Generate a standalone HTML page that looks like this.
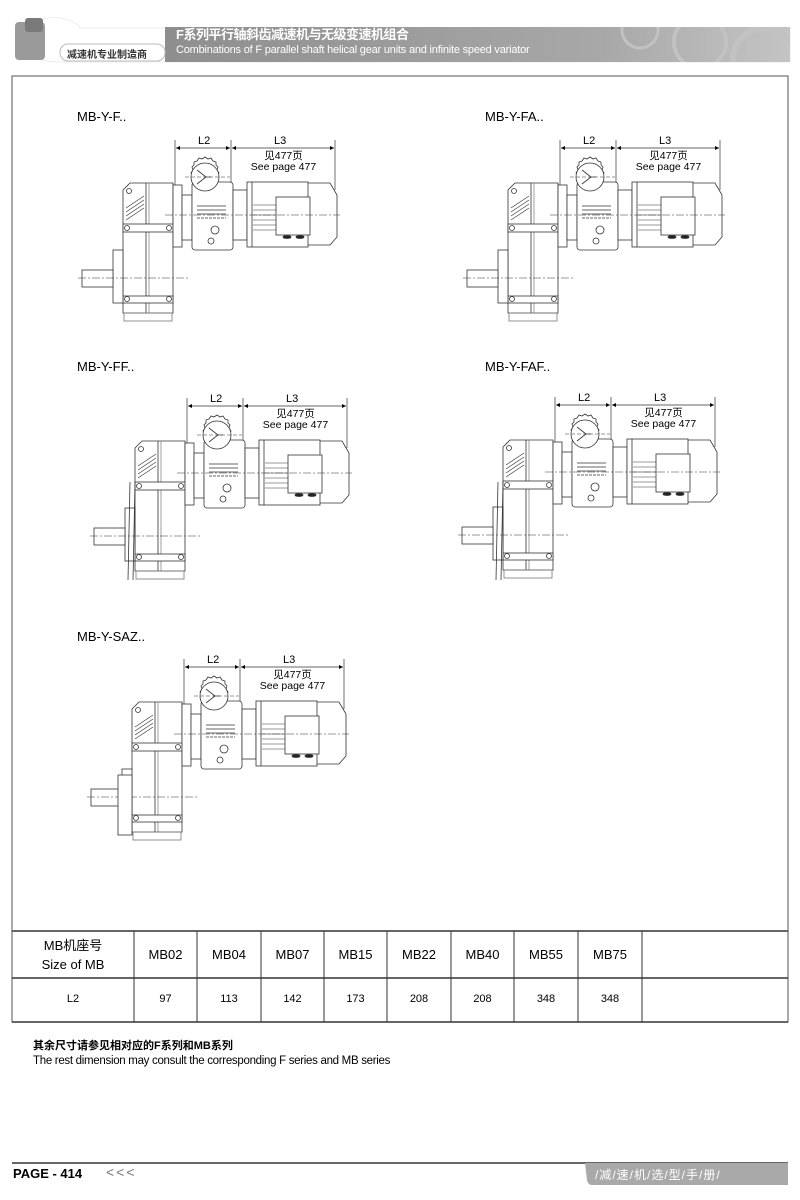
<!DOCTYPE html>
<html><head><meta charset="utf-8"><style>
html,body{margin:0;padding:0;background:#fff;}
body{width:800px;height:1200px;position:relative;overflow:hidden;font-family:"Liberation Sans","Noto Sans CJK SC",sans-serif;}
.abs{position:absolute;}
</style></head><body>
<svg class="abs" style="left:0;top:0" width="800" height="1200" xmlns="http://www.w3.org/2000/svg">
<defs>
<linearGradient id="ban" x1="0" x2="1" y1="0" y2="0">
<stop offset="0" stop-color="#8e8e8e"/><stop offset="0.7" stop-color="#a8a8a8"/><stop offset="1" stop-color="#c4c4c4"/>
</linearGradient>
<clipPath id="bc"><rect x="165" y="27" width="625" height="35"/></clipPath>
<marker id="ar" viewBox="0 0 10 10" refX="10" refY="5" markerWidth="7" markerHeight="5" orient="auto-start-reverse"><path d="M0,0 L10,5 L0,10 z" fill="#000"/></marker>
<g id="gb" fill="none" stroke="#333" stroke-width="0.8">
 <line x1="175" y1="140" x2="175" y2="185" stroke-width="0.7"/>
 <line x1="231" y1="140" x2="231" y2="185" stroke-width="0.7"/>
 <line x1="335" y1="140" x2="335" y2="190" stroke-width="0.7"/>
 <line x1="176" y1="148" x2="230" y2="148" marker-start="url(#ar)" marker-end="url(#ar)"/>
 <line x1="232" y1="148" x2="334" y2="148" marker-start="url(#ar)" marker-end="url(#ar)"/>
 <path d="M123,190 L130,183 L173,183 L173,313 L123,313 Z" fill="#fff"/>
 <line x1="146" y1="183" x2="146" y2="313"/>
 <line x1="149" y1="183" x2="149" y2="313" stroke="#888"/>
 <rect x="123" y="224" width="50" height="8" fill="#fff"/>
 <rect x="123" y="296" width="50" height="7" fill="#fff"/>
 <circle cx="127" cy="228" r="2.5"/><circle cx="169" cy="228" r="2.5"/>
 <circle cx="127" cy="299" r="2.5"/><circle cx="169" cy="299" r="2.5"/>
 <circle cx="129" cy="191" r="2.5"/>
 <path d="M126,212 L144,200 M126,216 L144,204 M126,220 L144,208 M126,208 L144,196" stroke-width="0.6"/>
 <rect x="124" y="313" width="48" height="8" stroke="#777"/>
 <rect x="113" y="250" width="10" height="53" fill="#fff"/>
 <rect x="82" y="270" width="31" height="17" fill="#fff"/>
 <line x1="78" y1="278" x2="190" y2="278" stroke-dasharray="8,2,2,2" stroke-width="0.5"/>
 <rect x="173" y="185" width="9" height="62" fill="#fff"/>
 <rect x="182" y="195" width="10" height="45" fill="#fff"/>
 <rect x="192" y="182" width="41" height="68" rx="3" fill="#fff"/>
 <line x1="197" y1="206" x2="226" y2="206"/><line x1="197" y1="210" x2="226" y2="210"/><line x1="197" y1="214" x2="226" y2="214"/><line x1="197" y1="218" x2="226" y2="218" stroke-dasharray="3,1"/>
 <circle cx="215" cy="230" r="4"/><circle cx="211" cy="241" r="3"/>
 <path d="M205,157 l3,2 l3,-1 l2,3 l3,1 l0,3 l2,2 l-1,3 l2,3 l-2,3 l1,3 l-2,2 l0,3 l-3,1 l-2,3 l-3,-1 l-3,2 l-3,-2 l-3,1 l-2,-3 l-3,-1 l0,-3 l-2,-2 l1,-3 l-2,-3 l2,-3 l-1,-3 l2,-2 l0,-3 l3,-1 l2,-3 l3,1 z" fill="#fff"/>
 <circle cx="205" cy="177" r="14" fill="#fff"/>
 <path d="M197,170 L206,177 L197,184 M206,177 L211,177"/>
 <line x1="185" y1="177" x2="230" y2="177" stroke-dasharray="4,2" stroke-width="0.5"/>
 <rect x="233" y="190" width="14" height="50" fill="#fff"/>
 <rect x="247" y="182" width="61" height="65" fill="#fff"/>
 <line x1="252" y1="182" x2="252" y2="247"/>
 <path d="M253,205 h25 M253,210 h25 M253,215 h25 M253,220 h25 M253,225 h25 M253,230 h25" stroke-width="0.6"/>
 <rect x="276" y="197" width="34" height="38" fill="#fff"/>
 <path d="M308,183 L330,183 L337,195 L337,237 L330,245 L308,245"/>
 <ellipse cx="287" cy="237" rx="4" ry="1.5" fill="#222"/><ellipse cx="300" cy="237" rx="4" ry="1.5" fill="#222"/>
 <line x1="165" y1="215" x2="340" y2="215" stroke-dasharray="8,2,2,2" stroke-width="0.5"/>
</g>
</defs>

<path d="M30,30 Q40,15 60,18 Q75,20 80,28 L790,28 L790,62 L60,62 Q35,62 30,50 Z" fill="#fff" stroke="#ddd" stroke-width="0.6"/>
<rect x="165" y="27" width="625" height="35" fill="url(#ban)"/>
<g clip-path="url(#bc)" fill="none" stroke="#c2c2c2">
<circle cx="700" cy="42" r="26" stroke-width="4"/>
<circle cx="765" cy="60" r="32" stroke-width="6"/>
<circle cx="640" cy="30" r="18" stroke-width="3"/>
</g>
<rect x="15" y="22" width="30" height="38" fill="#9a9a9a" rx="4"/>
<rect x="25" y="18" width="18" height="14" fill="#7a7a7a" rx="3"/>
<rect x="60" y="44" width="105" height="17" rx="8" fill="#fff" stroke="#bbb"/>

<rect x="12" y="76" width="776" height="946" fill="none" stroke="#555" stroke-width="1"/>

<use href="#gb"/>
<use href="#gb" transform="translate(385,0)"/>
<use href="#gb" transform="translate(12,258)"/>
<use href="#gb" transform="translate(380,257)"/>
<use href="#gb" transform="translate(9,519)"/>
<path d="M130,482 L128,580 M135,482 L133,580" stroke="#333" stroke-width="0.8" fill="none"/>
<path d="M498,482 L496,580 M503,482 L501,580" stroke="#333" stroke-width="0.8" fill="none"/>
<rect x="118" y="775" width="14" height="60" fill="#fff" stroke="#333" stroke-width="0.8"/>

<g stroke="#333" stroke-width="1" fill="none">
<line x1="12" y1="931" x2="788" y2="931" stroke-width="1.5"/>
<line x1="12" y1="978" x2="788" y2="978" stroke-width="1.5"/>
<line x1="12" y1="1022" x2="788" y2="1022" stroke-width="1.5"/>
<line x1="134" y1="931" x2="134" y2="1022"/><line x1="197" y1="931" x2="197" y2="1022"/>
<line x1="261" y1="931" x2="261" y2="1022"/><line x1="324" y1="931" x2="324" y2="1022"/>
<line x1="387" y1="931" x2="387" y2="1022"/><line x1="451" y1="931" x2="451" y2="1022"/>
<line x1="514" y1="931" x2="514" y2="1022"/><line x1="578" y1="931" x2="578" y2="1022"/>
<line x1="642" y1="931" x2="642" y2="1022"/>
</g>

<line x1="12" y1="1163" x2="788" y2="1163" stroke="#666" stroke-width="2"/>
<path d="M585,1163 L788,1163 L788,1185 L592,1185 Q588,1185 587,1180 Z" fill="#a9a9a9"/>
</svg>

<div class="abs" style="left:176px;top:28px;color:#fff;font-size:13px;font-weight:bold;line-height:14px;letter-spacing:-0.5px;white-space:nowrap;">F系列平行轴斜齿减速机与无级变速机组合</div>
<div class="abs" style="left:176px;top:44px;color:#fff;font-size:11px;line-height:12px;letter-spacing:-0.2px;white-space:nowrap;">Combinations of F parallel shaft helical gear units and infinite speed variator</div>
<div class="abs" style="left:67px;top:46px;color:#333;font-size:10px;font-weight:bold;">减速机专业制造商</div>

<div class="abs" style="left:77px;top:109px;font-size:13px;">MB-Y-F..</div>
<div class="abs" style="left:485px;top:109px;font-size:13px;">MB-Y-FA..</div>
<div class="abs" style="left:77px;top:359px;font-size:13px;">MB-Y-FF..</div>
<div class="abs" style="left:485px;top:359px;font-size:13px;">MB-Y-FAF..</div>
<div class="abs" style="left:77px;top:629px;font-size:13px;">MB-Y-SAZ..</div>

<div class="abs" style="left:198px;top:135px;font-size:11px;">L2</div>
<div class="abs" style="left:274px;top:135px;font-size:11px;">L3</div>
<div class="abs" style="left:246px;top:151px;width:75px;text-align:center;font-size:10.5px;line-height:11px;">见477页<br>See page 477</div>

<div class="abs" style="left:583px;top:135px;font-size:11px;">L2</div>
<div class="abs" style="left:659px;top:135px;font-size:11px;">L3</div>
<div class="abs" style="left:631px;top:151px;width:75px;text-align:center;font-size:10.5px;line-height:11px;">见477页<br>See page 477</div>

<div class="abs" style="left:210px;top:393px;font-size:11px;">L2</div>
<div class="abs" style="left:286px;top:393px;font-size:11px;">L3</div>
<div class="abs" style="left:258px;top:409px;width:75px;text-align:center;font-size:10.5px;line-height:11px;">见477页<br>See page 477</div>

<div class="abs" style="left:578px;top:392px;font-size:11px;">L2</div>
<div class="abs" style="left:654px;top:392px;font-size:11px;">L3</div>
<div class="abs" style="left:626px;top:408px;width:75px;text-align:center;font-size:10.5px;line-height:11px;">见477页<br>See page 477</div>

<div class="abs" style="left:207px;top:654px;font-size:11px;">L2</div>
<div class="abs" style="left:283px;top:654px;font-size:11px;">L3</div>
<div class="abs" style="left:255px;top:670px;width:75px;text-align:center;font-size:10.5px;line-height:11px;">见477页<br>See page 477</div>

<div class="abs" style="left:12px;top:936px;width:122px;text-align:center;font-size:13px;line-height:19px;">MB机座号<br>Size of MB</div>
<div class="abs" style="left:134px;top:947px;width:63px;text-align:center;font-size:13px;">MB02</div>
<div class="abs" style="left:197px;top:947px;width:64px;text-align:center;font-size:13px;">MB04</div>
<div class="abs" style="left:261px;top:947px;width:63px;text-align:center;font-size:13px;">MB07</div>
<div class="abs" style="left:324px;top:947px;width:63px;text-align:center;font-size:13px;">MB15</div>
<div class="abs" style="left:387px;top:947px;width:64px;text-align:center;font-size:13px;">MB22</div>
<div class="abs" style="left:451px;top:947px;width:63px;text-align:center;font-size:13px;">MB40</div>
<div class="abs" style="left:514px;top:947px;width:64px;text-align:center;font-size:13px;">MB55</div>
<div class="abs" style="left:578px;top:947px;width:64px;text-align:center;font-size:13px;">MB75</div>
<div class="abs" style="left:12px;top:993px;width:122px;text-align:center;font-size:11px;">L2</div>
<div class="abs" style="left:134px;top:993px;width:63px;text-align:center;font-size:11px;">97</div>
<div class="abs" style="left:197px;top:993px;width:64px;text-align:center;font-size:11px;">113</div>
<div class="abs" style="left:261px;top:993px;width:63px;text-align:center;font-size:11px;">142</div>
<div class="abs" style="left:324px;top:993px;width:63px;text-align:center;font-size:11px;">173</div>
<div class="abs" style="left:387px;top:993px;width:64px;text-align:center;font-size:11px;">208</div>
<div class="abs" style="left:451px;top:993px;width:63px;text-align:center;font-size:11px;">208</div>
<div class="abs" style="left:514px;top:993px;width:64px;text-align:center;font-size:11px;">348</div>
<div class="abs" style="left:578px;top:993px;width:64px;text-align:center;font-size:11px;">348</div>

<div class="abs" style="left:33px;top:1037px;font-size:11px;font-weight:bold;">其余尺寸请参见相对应的F系列和MB系列</div>
<div class="abs" style="left:33px;top:1055px;font-size:11.5px;letter-spacing:-0.3px;">The rest dimension may consult the corresponding F series and MB series</div>

<div class="abs" style="left:13px;top:1166px;font-size:13px;font-weight:bold;">PAGE - 414</div>
<div class="abs" style="left:106px;top:1164px;font-size:14px;color:#777;letter-spacing:2px;">&lt;&lt;&lt;</div>
<div class="abs" style="left:595px;top:1166px;font-size:12px;color:#fff;letter-spacing:1px;">/减/速/机/选/型/手/册/</div>
</body></html>
